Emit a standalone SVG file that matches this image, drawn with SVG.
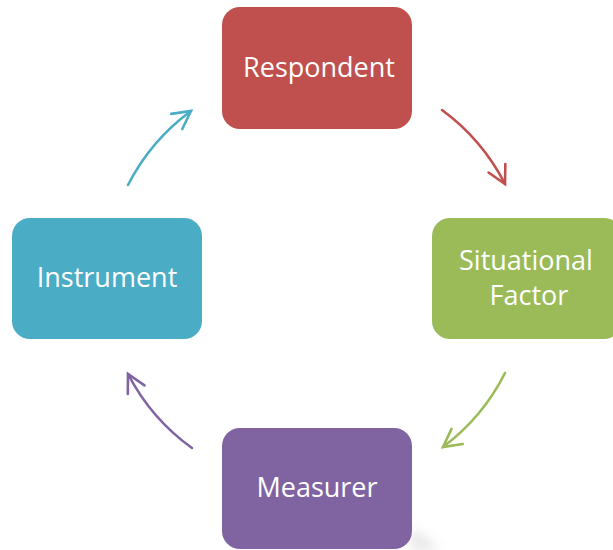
<svg xmlns="http://www.w3.org/2000/svg" width="613" height="550" viewBox="0 0 613 550">
  <style>
    .box { stroke: none; }
    .lbl { font-family: "Open Sans", "Noto Sans", "Liberation Sans", sans-serif; font-size: 27px; fill: #FFFFFF; text-anchor: middle; }
    .arc { fill: none; stroke-width: 2.6; stroke-linecap: round; }
    .head { fill: none; stroke-width: 2.6; stroke-linecap: round; stroke-linejoin: miter; }
  </style>
  <defs>
    <marker id="mRed" markerUnits="userSpaceOnUse" markerWidth="26" markerHeight="26" viewBox="-22 -13 26 26" refX="0" refY="0" orient="auto" overflow="visible">
      <path class="head" stroke="#C0504D" d="M-17.7,-9.4 L0,0 L-17.7,9.4"/>
    </marker>
    <marker id="mGreen" markerUnits="userSpaceOnUse" markerWidth="26" markerHeight="26" viewBox="-22 -13 26 26" refX="0" refY="0" orient="auto" overflow="visible">
      <path class="head" stroke="#9BBB59" d="M-17.7,-9.4 L0,0 L-17.7,9.4"/>
    </marker>
    <marker id="mPurple" markerUnits="userSpaceOnUse" markerWidth="26" markerHeight="26" viewBox="-22 -13 26 26" refX="0" refY="0" orient="auto" overflow="visible">
      <path class="head" stroke="#8064A2" d="M-17.7,-9.4 L0,0 L-17.7,9.4"/>
    </marker>
    <marker id="mBlue" markerUnits="userSpaceOnUse" markerWidth="26" markerHeight="26" viewBox="-22 -13 26 26" refX="0" refY="0" orient="auto" overflow="visible">
      <path class="head" stroke="#4BACC6" d="M-17.7,-9.4 L0,0 L-17.7,9.4"/>
    </marker>
    <filter id="blur" x="-50%" y="-50%" width="200%" height="200%">
      <feGaussianBlur stdDeviation="6"/>
    </filter>
  </defs>

  <rect width="613" height="550" fill="#FFFFFF"/>

  <g id="connectors">
    <path class="arc" stroke="#C0504D" d="M442,110 A210,210 0 0 1 505,184" marker-end="url(#mRed)"/>
    <path class="arc" stroke="#9BBB59" d="M505,373 A210,210 0 0 1 443,447" marker-end="url(#mGreen)"/>
    <path class="arc" stroke="#8064A2" d="M192,448 A210,210 0 0 1 128,374" marker-end="url(#mPurple)"/>
    <path class="arc" stroke="#4BACC6" d="M128,185 A210,210 0 0 1 191,111" marker-end="url(#mBlue)"/>
  </g>

  <g id="respondent">
    <rect class="box" x="222" y="7" width="190" height="122" rx="18" fill="#C0504D"/>
    <text class="lbl" x="319" y="77">Respondent</text>
  </g>

  <g id="situational-factor">
    <rect class="box" x="432" y="218" width="190" height="121" rx="18" fill="#9BBB59"/>
    <text class="lbl" x="526" y="270">Situational</text>
    <text class="lbl" x="529" y="305">Factor</text>
  </g>

  <g id="measurer">
    <path d="M412,528 L440,550 L412,550 Z" fill="#B0B0B0" opacity="0.35" filter="url(#blur)"/>
    <rect class="box" x="222" y="428" width="190" height="121" rx="18" fill="#8064A2"/>
    <text class="lbl" x="317" y="497">Measurer</text>
  </g>

  <g id="instrument">
    <rect class="box" x="12" y="218" width="190" height="121" rx="18" fill="#4BACC6"/>
    <text class="lbl" x="107" y="287">Instrument</text>
  </g>
</svg>
